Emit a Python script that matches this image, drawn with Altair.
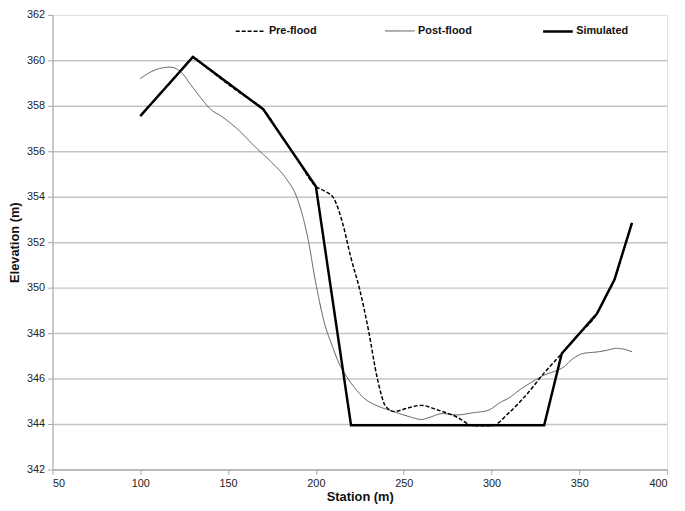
import altair as alt
import pandas as pd

series_names = ["Pre-flood", "Post-flood", "Simulated"]

pre_station = [100, 110, 120, 127, 130, 133, 140, 150, 160, 170, 180, 190, 200, 205, 210, 215, 220, 225, 230, 235, 240, 245, 250, 260, 270, 280, 290, 300, 310, 320, 330, 340, 350, 360, 365, 370, 375, 380]
pre_elev = [357.55, 358.42, 359.28, 359.9, 360.15, 359.97, 359.55, 358.95, 358.4, 357.85, 356.72, 355.58, 354.45, 354.25, 353.95, 352.9, 351.3, 349.9, 348.1, 346.0, 344.75, 344.55, 344.65, 344.82, 344.6, 344.32, 343.92, 343.92, 344.5, 345.3, 346.25, 347.1, 347.98, 348.85, 349.6, 350.35, 351.6, 352.85]

post_station = [100, 105, 110, 117, 123, 129, 135, 140, 146, 155, 166, 175, 183, 189, 193, 196, 199, 202, 205, 209, 213, 217, 222, 228, 235, 242, 250, 255, 260, 265, 272, 280, 290, 298, 305, 310, 316, 322, 330, 337, 341, 346, 352, 361, 366, 371, 376, 380]
post_elev = [359.2, 359.45, 359.62, 359.7, 359.5, 358.9, 358.3, 357.85, 357.55, 357.0, 356.15, 355.5, 354.8, 354.0, 353.0, 351.95, 350.6, 349.4, 348.4, 347.5, 346.7, 346.15, 345.6, 345.1, 344.8, 344.6, 344.4, 344.28, 344.2, 344.3, 344.46, 344.4, 344.5, 344.6, 344.95, 345.15, 345.5, 345.8, 346.15, 346.35, 346.5, 346.85, 347.1, 347.18, 347.25, 347.33, 347.28, 347.18]

sim_station = [100, 130, 170, 200, 220, 330, 340, 360, 370, 380]
sim_elev = [357.55, 360.15, 357.85, 354.45, 343.95, 343.95, 347.1, 348.85, 350.35, 352.85]

x_ticks = [50, 100, 150, 200, 250, 300, 350, 400]
y_ticks = [342, 344, 346, 348, 350, 352, 354, 356, 358, 360, 362]

pre_df = pd.DataFrame({"station": pre_station, "elev": pre_elev, "series": "Pre-flood", "o": range(len(pre_station))})
post_df = pd.DataFrame({"station": post_station, "elev": post_elev, "series": "Post-flood", "o": range(len(post_station))})
sim_df = pd.DataFrame({"station": sim_station, "elev": sim_elev, "series": "Simulated", "o": range(len(sim_station))})

FONT = "Liberation Sans"

x_enc = alt.X("station:Q", scale=alt.Scale(domain=[50, 400], nice=False, zero=False),
              axis=alt.Axis(values=x_ticks, title="Station (m)", grid=False,
                            domainColor="#a6a6a6", tickColor="#a6a6a6", tickSize=5,
                            labelFont=FONT, labelFontSize=11, labelColor="#222222",
                            labelPadding=3, titleFont=FONT, titleFontSize=13,
                            titleFontWeight="bold", titlePadding=2, titleColor="#111111"))
y_enc = alt.Y("elev:Q", scale=alt.Scale(domain=[342, 362], nice=False, zero=False),
              axis=alt.Axis(values=y_ticks, title="Elevation (m)", grid=True,
                            gridColor={"condition": {"test": "datum.value == 362", "value": "transparent"}, "value": "#c4c4c4"},
                            gridWidth=1.5,
                            domainColor="#a6a6a6", tickColor="#a6a6a6", tickSize=5,
                            labelFont=FONT, labelFontSize=11, labelColor="#222222",
                            labelPadding=3, titleFont=FONT, titleFontSize=13,
                            titleFontWeight="bold", titlePadding=5, titleColor="#111111"))

color_enc = alt.Color("series:O", scale=alt.Scale(domain=series_names, range=["#000000", "#555555", "#000000"]),
                      legend=alt.Legend(title=None, orient="none", legendX=184, legendY=0,
                                        direction="horizontal", columns=3, columnPadding=66,
                                        symbolType="stroke", symbolSize=900,
                                        labelFont=FONT, labelFontSize=11, labelFontWeight="bold",
                                        labelColor="#111111", labelOffset=2))
dash_enc = alt.StrokeDash("series:O", scale=alt.Scale(domain=series_names, range=[[4, 2], [1, 0], [1, 0]]))
width_enc = alt.StrokeWidth("series:O", scale=alt.Scale(type="ordinal", domain=series_names, range=[1.5, 1, 2.5]))

post_layer = alt.Chart(post_df).mark_line(interpolate="monotone").encode(
    x=x_enc, y=y_enc, color=color_enc, strokeDash=dash_enc, strokeWidth=width_enc, order="o:Q")
pre_layer = alt.Chart(pre_df).mark_line(interpolate="monotone").encode(
    x=x_enc, y=y_enc, color=color_enc, strokeDash=dash_enc, strokeWidth=width_enc, order="o:Q")
sim_layer = alt.Chart(sim_df).mark_line().encode(
    x=x_enc, y=y_enc, color=color_enc, strokeDash=dash_enc, strokeWidth=width_enc, order="o:Q")

chart = alt.layer(post_layer, pre_layer, sim_layer).properties(
    width=622, height=460,
    autosize=alt.AutoSizeParams(type="none"),
    padding={"left": 45, "top": 4, "right": 10, "bottom": 35},
).configure_view(stroke=None).configure(background="white")

chart.save("out.html", embed_options={"renderer": "svg", "actions": False})
